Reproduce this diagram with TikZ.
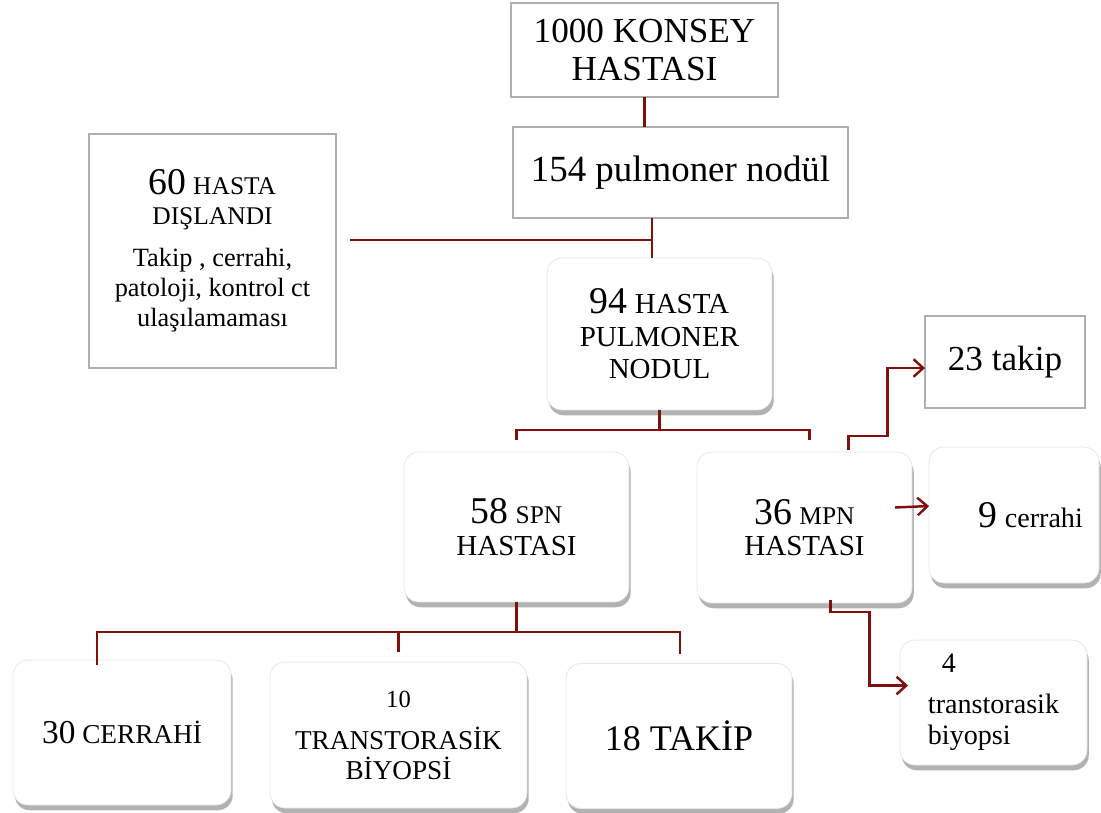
\documentclass[tikz,border=0pt]{standalone}
\usepackage{fontspec}
\setmainfont{Liberation Serif}
\usepackage{tikz}
\usetikzlibrary{arrows.meta,calc,shadows}
\definecolor{linkred}{RGB}{130,14,14}
\definecolor{boxgray}{RGB}{175,175,175}
\newcommand{\bignum}{\fontsize{21.5}{24}\selectfont}
\newcommand{\capsize}{\fontsize{14.5}{17}\selectfont}
\tikzset{
  plainbox/.style={rectangle, draw=boxgray, line width=1.1pt, fill=white,
                   inner sep=0pt, outer sep=0pt, align=center},
  roundbox/.style={rectangle, rounded corners=0.3cm, fill=white, draw=black!10,
                   inner sep=0pt, outer sep=0pt, align=center,
                   drop shadow={shadow xshift=1pt, shadow yshift=-3pt,
                                opacity=0.5, fill=black!60}},
  link/.style={draw=linkred, line width=1.4pt},
  arrowlink/.style={link, -{Straight Barb[length=5.5pt,width=10pt]}},
}

\begin{document}
\begin{tikzpicture}[x=0.02cm, y=-0.02cm]
  \useasboundingbox (0,0) rectangle (1101,812);

  % top chain
  \node[plainbox, minimum width=5.34cm, minimum height=1.88cm,
        font=\fontsize{20}{22}\selectfont] (konsey) at (644.5,50) {1000 KONSEY\\HASTASI};
  \node[plainbox, minimum width=6.70cm, minimum height=1.82cm,
        font=\fontsize{21}{24}\selectfont] (nodul) at (680.5,172.5) {154 pulmoner nodül};
  \node[plainbox, minimum width=4.94cm, minimum height=4.68cm,
        font=\fontsize{15}{17}\selectfont] (dislandi) at (212.5,251)
    {{\bignum 60} {\capsize HASTA}\\{\capsize DIŞLANDI}\\[7pt]
     Takip , cerrahi,\\patoloji, kontrol ct\\ulaşılamaması};
  \node[roundbox, minimum width=4.50cm, minimum height=3.04cm,
        font=\fontsize{16.5}{18.5}\selectfont] (hasta94) at (659.5,334)
    {{\bignum 94} HASTA\\PULMONER\\NODUL};

  % second level
  \node[roundbox, minimum width=4.50cm, minimum height=3.00cm,
        font=\fontsize{16.5}{18}\selectfont] (spn) at (516.5,527)
    {{\bignum 58} {\capsize SPN}\\HASTASI};
  \node[roundbox, minimum width=4.30cm, minimum height=3.02cm,
        font=\fontsize{16.5}{18}\selectfont] (mpn) at (804.5,527.5)
    {{\bignum 36} {\capsize MPN}\\HASTASI};

  % mpn outcomes
  \node[plainbox, minimum width=3.20cm, minimum height=1.84cm,
        font=\fontsize{20}{22}\selectfont] (takip23) at (1005,362) {23 takip};
  \node[roundbox, minimum width=3.40cm, minimum height=2.72cm,
        font=\fontsize{16}{18}\selectfont] (cerrahi9) at (1014,515)
    {\hspace*{1.2em}{\bignum 9} cerrahi};
  \node[roundbox, minimum width=3.74cm, minimum height=2.50cm,
        font=\fontsize{16}{18}\selectfont, align=left] (biyopsi4) at (993.5,702.5)
    {\hspace*{0.5em}4\\[5pt]transtorasik\\biyopsi};

  % spn outcomes
  \node[roundbox, minimum width=4.36cm, minimum height=2.90cm,
        font=\fontsize{15.5}{17}\selectfont] (cerrahi30) at (122,732.5)
    {{\fontsize{19}{22}\selectfont 30} CERRAHİ};
  \node[roundbox, minimum width=5.14cm, minimum height=2.92cm,
        font=\fontsize{15.5}{17}\selectfont] (biyopsi10) at (398.5,735)
    {{\fontsize{14}{16}\selectfont 10}\\[7pt]TRANSTORASİK\\BİYOPSİ};
  \node[roundbox, minimum width=4.52cm, minimum height=2.90cm,
        font=\fontsize{20.5}{22}\selectfont] (takip18) at (679,736) {18 TAKİP};

  % connectors
  \coordinate (j1) at (652,240);
  \coordinate (lstub) at (350,240);
  \draw[link] (konsey.south) -- (konsey.south |- nodul.north);
  \draw[link] (nodul.south -| j1) -- (hasta94.north -| j1);
  \draw[link] (lstub) -- (j1);

  \draw[link] (hasta94.south) -- ++(0,20) coordinate (b94);
  \draw[link] ($(spn.north)+(0,-12)$) |- (b94) -| ($(mpn.north)+(5,-12)$);

  \draw[arrowlink] ($(mpn.north)+(44,-2)$) |- ++(39,-14) |- ($(takip23.west)+(0,6)$);
  \draw[arrowlink] ($(mpn.east)+(-17,-20)$) -- ($(cerrahi9.west)+(0,-9)$);
  \draw[arrowlink] ($(mpn.south)+(26,-3)$) |- ++(39,12) |- ($(biyopsi4.west)+(8,-17)$);

  \draw[link] (spn.south) -- ++(0,30) coordinate (b58);
  \draw[link] ($(cerrahi30.north)+(-25,5)$) |- (b58) -| ($(takip18.north)+(1,-10)$);
  \draw[link] (b58 -| biyopsi10.north) -- ($(biyopsi10.north)+(0,-10)$);
\end{tikzpicture}
\end{document}
